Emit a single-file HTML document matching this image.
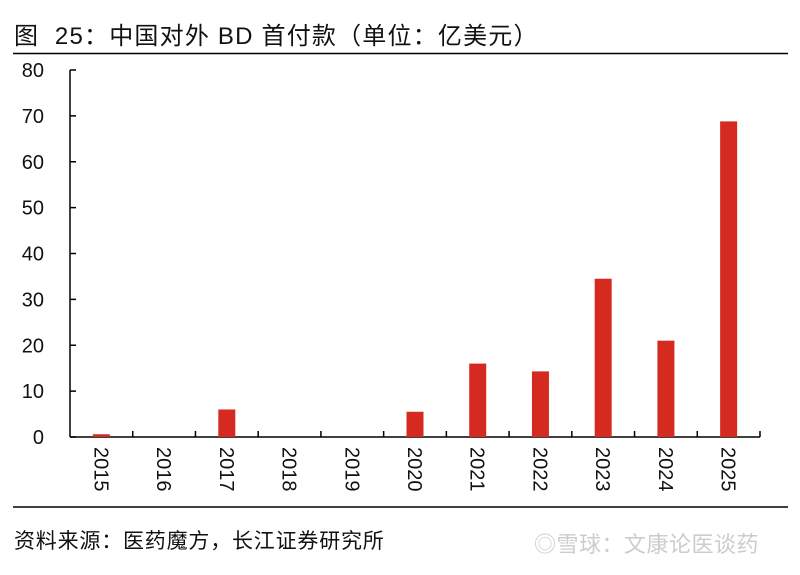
<!DOCTYPE html>
<html><head><meta charset="utf-8"><style>
body{margin:0;background:#fff;width:800px;height:570px;overflow:hidden;font-family:"Liberation Sans","Noto Sans CJK SC",sans-serif}
</style></head><body>
<svg width="800" height="570" xmlns="http://www.w3.org/2000/svg" style="font-family:'Liberation Sans','Noto Sans CJK SC',sans-serif">
<text x="14" y="44" font-size="24" fill="#111" letter-spacing="1.2" style="white-space:pre">图  25：中国对外 BD 首付款（单位：亿美元）</text>
<line x1="13" y1="53.5" x2="788" y2="53.5" stroke="#000" stroke-width="1.5"/>
<line x1="13" y1="507" x2="788" y2="507" stroke="#000" stroke-width="1.5"/>
<text x="14" y="548" font-size="21" fill="#111" letter-spacing="0.8">资料来源：医药魔方，长江证券研究所</text>
<text x="534" y="552" font-size="22" fill="#ccc" letter-spacing="0.5">◎雪球：文康论医谈药</text>
<g id="plot"></g>
</svg>
<script>
const categories=["2015","2016","2017","2018","2019","2020","2021","2022","2023","2024","2025"];
const values=[0.6,0,6,0,0,5.5,16,14.3,34.5,21,68.8];
const yTicks=[0,10,20,30,40,50,60,70,80];
const NS="http://www.w3.org/2000/svg";
const g=document.getElementById('plot');
const x0=70,x1=760,y0=437,y1=70,yMax=80;
const step=(x1-x0)/categories.length;
const ys=v=>y0-(v/yMax)*(y0-y1);
function mk(t,a){const e=document.createElementNS(NS,t);for(const k in a)e.setAttribute(k,a[k]);g.appendChild(e);return e;}
let e;
e=mk('line',{x1:x0,y1:y1,x2:x0,y2:y0,stroke:'#000','stroke-width':1.5});


e=mk('line',{x1:x0,y1:y0,x2:x1,y2:y0,stroke:'#000','stroke-width':1.5});


yTicks.forEach(v=>{
 e=mk('line',{x1:x0,y1:ys(v),x2:x0+6,y2:ys(v),stroke:'#000','stroke-width':1.5});
 
 
 e=mk('text',{x:44,y:ys(v)+7,'font-size':20,'text-anchor':'end',fill:'#111'});
 e.textContent=v;
 
 
});
for(let i=1;i<=categories.length;i++){
 const x=x0+i*step;
 e=mk('line',{x1:x,y1:y0,x2:x,y2:y0-6,stroke:'#000','stroke-width':1.5});
 
 
}
categories.forEach((c,i)=>{
 const cx=x0+(i+0.5)*step;
 const v=values[i];
 if(v>0){
  e=mk('rect',{x:cx-8.5,y:ys(v),width:17,height:y0-ys(v),fill:'#d42a20'});
  
  
 }
 e=mk('text',{x:0,y:0,'font-size':20,fill:'#111',transform:`translate(${cx-7},447) rotate(90)`});
 e.textContent=c;
 
 
});
</script>
</body></html>
